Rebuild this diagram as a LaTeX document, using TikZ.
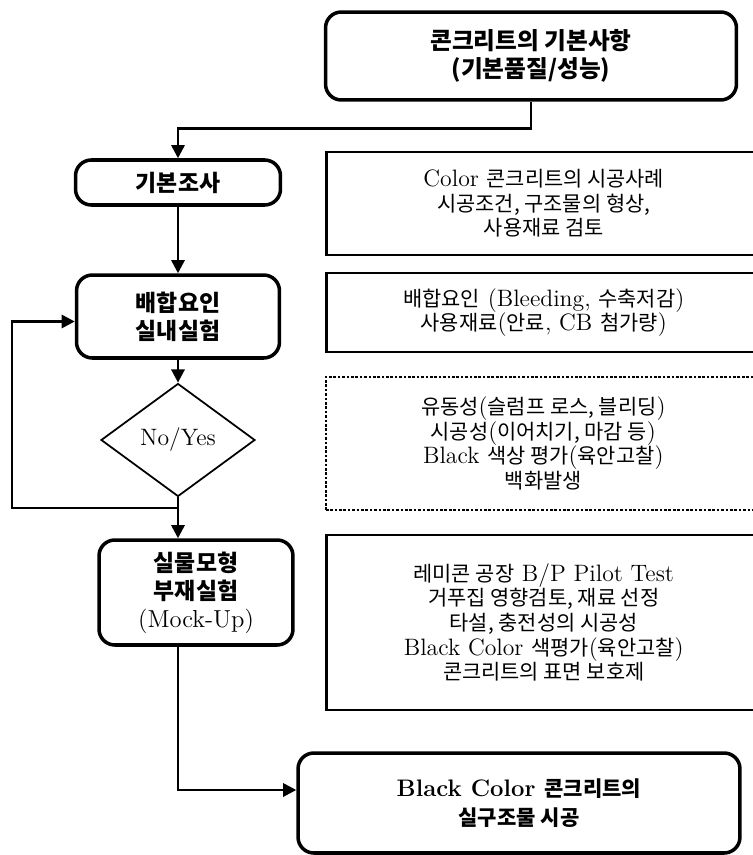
\documentclass[tikz,border=0pt]{standalone}
\usepackage{fontspec}
\newfontfamily\krfont[Scale=0.88]{Noto Sans CJK KR}
\newcommand{\kr}[1]{{\krfont #1}}
\usetikzlibrary{positioning, arrows.meta, shapes.geometric}

\tikzset{
  stage/.style={draw, line width=2pt, rounded corners=9pt, align=center, inner sep=2pt, font=\bfseries\fontsize{14.8}{16}\selectfont},
  note/.style={draw, line width=1.5pt, anchor=west, align=center, minimum width=8.7cm, font=\fontsize{13.5}{14}\selectfont},
  check/.style={draw, diamond, line width=1pt, inner sep=0pt, minimum width=3.08cm, minimum height=2.26cm, font=\fontsize{13.5}{15}\selectfont},
  flow/.style={-{Triangle[length=7.5pt, width=7.5pt]}, line width=1.5pt},
}

\begin{document}
\begin{tikzpicture}[x=0.02cm, y=-0.02cm]
  \useasboundingbox (0,0) rectangle (753,855);
  % process steps
  \node[stage, minimum width=8.22cm, minimum height=1.76cm, font=\bfseries\fontsize{15.3}{15.5}\selectfont] (top) at (531,56) {\kr{콘크리트의 기본사항}\\\kr{(기본품질/성능)}};
  \node[stage, minimum width=4.1cm, minimum height=0.9cm] (basic) at (178,182.5) {\kr{기본조사}};
  \node[stage, minimum width=4.06cm, minimum height=1.66cm] (mix) at (178,316.5) {\kr{배합요인}\\\kr{실내실험}};
  \node[check] (decide) at (178,440) {No/Yes};
  \node[stage, minimum width=3.88cm, minimum height=2.1cm] (mock) at (196,592.5) {\kr{실물모형}\\\kr{부재실험}\\{\mdseries\fontsize{14}{16}\selectfont (Mock-Up)}};
  \node[stage, minimum width=8.84cm, minimum height=2cm, font=\bfseries\fontsize{13.6}{16.5}\selectfont] (final) at (519,803) {Black Color \kr{콘크리트의}\\\kr{실구조물 시공}};

  % notes
  \node[note, minimum height=2.06cm] (n1) at (325,203.5) {Color \kr{콘크리트의 시공사례}\\\kr{시공조건, 구조물의 형상,}\\\kr{사용재료 검토}};
  \node[note, minimum height=1.58cm] (n2) at (325,312.5) {\kr{배합요인} (Bleeding, \kr{수축저감})\\\kr{사용재료}(\kr{안료}, CB \kr{첨가량})};
  \node[note, densely dotted, line width=1pt, minimum height=2.66cm] (n3) at (325,443.5) {\kr{유동성}(\kr{슬럼프 로스, 블리딩})\\\kr{시공성}(\kr{이어치기, 마감 등})\\Black \kr{색상 평가}(\kr{육안고찰})\\\kr{백화발생}};
  \node[note, minimum height=3.5cm] (n4) at (325,622.5) {\kr{레미콘 공장} B/P Pilot Test\\\kr{거푸집 영향검토, 재료 선정}\\\kr{타설, 충전성의 시공성}\\Black Color \kr{색평가}(\kr{육안고찰})\\\kr{콘크리트의 표면 보호제}};

  % connectors
  \coordinate (join) at (178,508);
  \coordinate (back) at (12,508);
  \draw[flow] (top.south) -- ++(0,27) -| (basic.north);
  \draw[flow] (basic) -- (mix);
  \draw[flow] (mix) -- (decide);
  \draw[flow] (decide.south) -- (decide.south |- mock.north);
  \draw[flow] (join) -- (back) |- ([yshift=-0.1cm]mix.west);
  \draw[flow] (decide.south |- mock.south) |- ([yshift=0.26cm]final.west);
\end{tikzpicture}
\end{document}
